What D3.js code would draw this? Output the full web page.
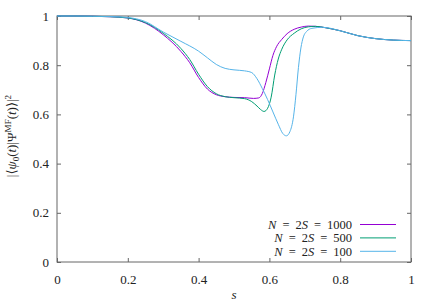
<!DOCTYPE html>
<html>
<head>
<meta charset="utf-8">
<script src="https://cdn.jsdelivr.net/npm/d3@7"></script>
<style>
  body { margin: 0; background: #fff; }
  svg { display: block; }
  text { font-family: "Liberation Serif", "DejaVu Serif", serif; fill: #222; }
</style>
</head>
<body>
<svg></svg>
<script>
const width = 436;
const height = 305;
const margin = { top: 16, right: 25, bottom: 43, left: 57 };

const xTicks = [0, 0.2, 0.4, 0.6, 0.8, 1];
const yTicks = [0, 0.2, 0.4, 0.6, 0.8, 1];

const legendValues = ["1000", "500", "100"];
const colors = ["#9400d3", "#009e73", "#56b4e9"];

const s1000 = [0, 0.05, 0.1, 0.15, 0.2, 0.25, 0.3, 0.35, 0.375, 0.4, 0.425, 0.45, 0.475, 0.5, 0.53, 0.555, 0.57, 0.58, 0.59, 0.6, 0.61, 0.62, 0.635, 0.65, 0.67, 0.69, 0.71, 0.73, 0.76, 0.8, 0.85, 0.9, 0.95, 1];
const v1000 = [1, 1, 0.999, 0.997, 0.992, 0.971, 0.924, 0.856, 0.81, 0.75, 0.703, 0.68, 0.672, 0.669, 0.668, 0.665, 0.667, 0.685, 0.73, 0.785, 0.84, 0.875, 0.905, 0.928, 0.946, 0.955, 0.959, 0.958, 0.952, 0.94, 0.92, 0.908, 0.902, 0.9];

const s500 = [0, 0.05, 0.1, 0.15, 0.2, 0.25, 0.3, 0.35, 0.375, 0.4, 0.425, 0.45, 0.475, 0.5, 0.53, 0.55, 0.565, 0.575, 0.585, 0.595, 0.605, 0.615, 0.625, 0.635, 0.65, 0.67, 0.69, 0.71, 0.73, 0.76, 0.8, 0.85, 0.9, 0.95, 1];
const v500 = [1, 1, 0.999, 0.997, 0.992, 0.973, 0.93, 0.868, 0.823, 0.763, 0.713, 0.684, 0.672, 0.668, 0.664, 0.652, 0.634, 0.62, 0.612, 0.625, 0.67, 0.76, 0.825, 0.865, 0.903, 0.93, 0.948, 0.956, 0.958, 0.952, 0.94, 0.92, 0.908, 0.902, 0.9];

const s100 = [0, 0.05, 0.1, 0.15, 0.2, 0.25, 0.3, 0.35, 0.4, 0.425, 0.45, 0.475, 0.5, 0.53, 0.55, 0.565, 0.58, 0.595, 0.61, 0.625, 0.638, 0.648, 0.658, 0.668, 0.675, 0.682, 0.689, 0.696, 0.705, 0.72, 0.75, 0.8, 0.85, 0.9, 0.95, 1];
const v100 = [1, 1, 0.999, 0.998, 0.994, 0.977, 0.935, 0.897, 0.857, 0.83, 0.803, 0.787, 0.781, 0.777, 0.77, 0.745, 0.705, 0.66, 0.61, 0.56, 0.522, 0.513, 0.53, 0.59, 0.68, 0.79, 0.87, 0.915, 0.937, 0.95, 0.954, 0.94, 0.92, 0.908, 0.902, 0.9];

const series = [
  { s: s1000, v: v1000 },
  { s: s500, v: v500 },
  { s: s100, v: v100 },
];

const svg = d3.select("svg").attr("width", width).attr("height", height);

const xScale = d3.scaleLinear().domain([0, 1]).range([margin.left, width - margin.right]);
const yScale = d3.scaleLinear().domain([0, 1]).range([height - margin.bottom, margin.top]);

const borderColor = "#666";

// axes (gnuplot style: inward ticks, mirrored)
const axisStyle = (g) => {
  g.attr("font-family", '"Liberation Serif", serif');
  g.select(".domain").remove();
  g.selectAll(".tick line").attr("stroke", borderColor);
  g.selectAll(".tick text").attr("font-size", 13).attr("fill", "#222");
};

svg.append("g")
  .attr("transform", "translate(0," + (height - margin.bottom) + ")")
  .call(d3.axisBottom(xScale).tickValues(xTicks).tickFormat(d3.format("")).tickSize(-4).tickPadding(13))
  .call(axisStyle);

svg.append("g")
  .attr("transform", "translate(0," + margin.top + ")")
  .call(d3.axisTop(xScale).tickValues(xTicks).tickFormat("").tickSize(-4))
  .call(axisStyle);

svg.append("g")
  .attr("transform", "translate(" + margin.left + ",0)")
  .call(d3.axisLeft(yScale).tickValues(yTicks).tickFormat(d3.format("")).tickSize(-4).tickPadding(8))
  .call(axisStyle);

svg.append("g")
  .attr("transform", "translate(" + (width - margin.right) + ",0)")
  .call(d3.axisRight(yScale).tickValues(yTicks).tickFormat("").tickSize(-4))
  .call(axisStyle);

svg.append("rect")
  .attr("x", margin.left)
  .attr("y", margin.top)
  .attr("width", width - margin.left - margin.right)
  .attr("height", height - margin.top - margin.bottom)
  .attr("fill", "none")
  .attr("stroke", borderColor)
  .attr("stroke-width", 1);

// curves
const line = d3.line()
  .x((d) => xScale(d[0]))
  .y((d) => yScale(d[1]))
  .curve(d3.curveMonotoneX);

series.forEach((ser, i) => {
  svg.append("path")
    .datum(ser.s.map((s, j) => [s, ser.v[j]]))
    .attr("d", line)
    .attr("fill", "none")
    .attr("stroke", colors[i])
    .attr("stroke-width", 1);
});

// legend
const legend = svg.append("g");
legendValues.forEach((val, i) => {
  const y = 224.5 + i * 13.4;
  const t = legend.append("text")
    .attr("x", 352)
    .attr("y", y + 4.3)
    .attr("text-anchor", "end")
    .attr("font-size", 12.5);
  t.append("tspan").attr("font-style", "italic").text("N");
  t.append("tspan").attr("dx", 6).text("=");
  t.append("tspan").attr("dx", 6).text("2");
  t.append("tspan").attr("font-style", "italic").text("S");
  t.append("tspan").attr("dx", 6).text("=");
  t.append("tspan").attr("dx", 6).text(val);
  legend.append("line")
    .attr("x1", 360).attr("x2", 396)
    .attr("y1", y).attr("y2", y)
    .attr("stroke", colors[i])
    .attr("stroke-width", 1);
});

// axis labels
svg.append("text")
  .attr("x", (margin.left + width - margin.right) / 2)
  .attr("y", 299)
  .attr("text-anchor", "middle")
  .attr("font-size", 13)
  .attr("font-style", "italic")
  .text("s");

const yl = svg.append("text")
  .attr("transform", "translate(16,136) rotate(-90)")
  .attr("text-anchor", "middle")
  .attr("font-size", 13);
yl.append("tspan").text("|⟨");
yl.append("tspan").attr("font-style", "italic").text("ψ");
yl.append("tspan").attr("font-size", 9).attr("dy", 3).text("0");
yl.append("tspan").attr("dy", -3).text("(");
yl.append("tspan").attr("font-style", "italic").text("t");
yl.append("tspan").text(")|Ψ");
yl.append("tspan").attr("font-size", 9).attr("dy", -5).text("MF");
yl.append("tspan").attr("dy", 5).text("(");
yl.append("tspan").attr("font-style", "italic").text("t");
yl.append("tspan").text(")⟩|");
yl.append("tspan").attr("font-size", 9).attr("dy", -5).text("2");
</script>
</body>
</html>
